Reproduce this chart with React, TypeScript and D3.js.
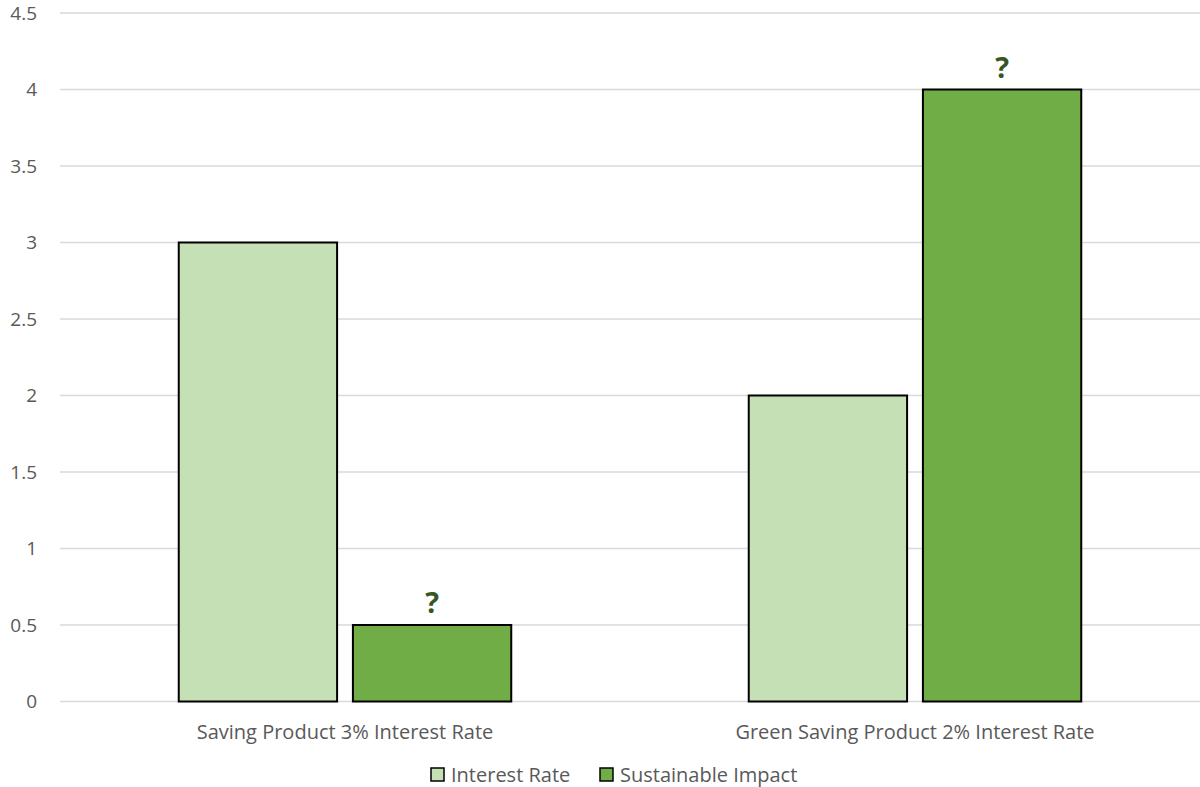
import React from "react";
import * as d3 from "d3";

const categories = ["Saving Product 3% Interest Rate", "Green Saving Product 2% Interest Rate"];
const seriesNames = ["Interest Rate", "Sustainable Impact"];
const interestRate = [3, 2];
const sustainableImpact = [0.5, 4];
const impactLabels = ["?", "?"];
const yTicks = [0, 0.5, 1, 1.5, 2, 2.5, 3, 3.5, 4, 4.5];

const colors = ["#c5e0b4", "#70ad47"];
const FONT = "'Open Sans', sans-serif";

export default function App() {
  const W = 1200, H = 787;
  const left = 60, right = 1200, top = 13, bottom = 701.5;
  const y = d3.scaleLinear().domain([0, 4.5]).range([bottom, top]);
  const x = d3.scaleBand().domain(categories).range([left, right]).paddingInner(0).paddingOuter(0);
  const band = x.bandwidth();
  const barW = band / 3.6;
  const gap = barW * 0.1;
  const series = [interestRate, sustainableImpact];

  return (
    <svg width={W} height={H} style={{ position: "absolute", left: 0, top: 0, background: "#fff" }}>
      {yTicks.map((t) => (
        <g key={t}>
          <line x1={left} x2={right} y1={y(t)} y2={y(t)} stroke="#d9d9d9" strokeWidth={1.5} />
          <text x={37} y={y(t)} dy="0.35em" textAnchor="end" fontFamily={FONT} fontSize={19} fill="#595959">
            {t}
          </text>
        </g>
      ))}
      {categories.map((c, i) => {
        const cx = (x(c) as number) + band / 2;
        const start = cx - barW - gap / 2;
        return (
          <g key={c}>
            {series.map((s, j) => {
              const bx = start + j * (barW + gap);
              return (
                <rect key={j} x={bx} y={y(s[i])} width={barW} height={y(0) - y(s[i])}
                  fill={colors[j]} stroke="#000" strokeWidth={2} />
              );
            })}
            <text x={start + barW + gap + barW / 2} y={y(sustainableImpact[i]) - 12} textAnchor="middle"
              fontFamily={FONT} fontWeight="bold" fontSize={29} fill="#375623">
              {impactLabels[i]}
            </text>
            <text x={cx} y={732} dy="0.35em" textAnchor="middle" fontFamily={FONT} fontSize={20} fill="#595959">
              {c}
            </text>
          </g>
        );
      })}
      {seriesNames.map((n, j) => {
        const lx = [431, 600][j];
        return (
          <g key={n}>
            <rect x={lx} y={768} width={13} height={13} fill={colors[j]} stroke="#000" strokeWidth={1.5} />
            <text x={lx + 20} y={775} dy="0.35em" fontFamily={FONT} fontSize={20} fill="#595959">{n}</text>
          </g>
        );
      })}
    </svg>
  );
}
